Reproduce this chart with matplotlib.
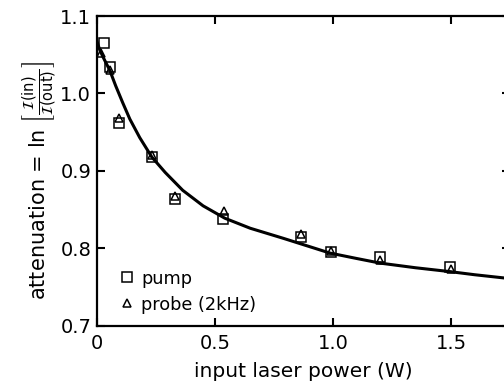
import matplotlib
matplotlib.use("Agg")
import matplotlib.pyplot as plt

# ---------------- data ----------------
pump_x = [0.03, 0.055, 0.093, 0.233, 0.33, 0.534, 0.864, 0.99, 1.2, 1.496]
pump_y = [1.065, 1.034, 0.962, 0.918, 0.864, 0.838, 0.815, 0.795, 0.789, 0.776]

probe_x = [0.02, 0.055, 0.093, 0.233, 0.33, 0.54, 0.865, 0.99, 1.2, 1.5]
probe_y = [1.052, 1.030, 0.968, 0.920, 0.868, 0.848, 0.818, 0.797, 0.785, 0.774]

# fitted curve
fit_x = [0.0, 0.013, 0.03, 0.055, 0.08, 0.11, 0.14, 0.182, 0.233, 0.29, 0.364,
         0.45, 0.542, 0.65, 0.79, 0.987, 1.1, 1.2, 1.35, 1.496, 1.6, 1.75]
fit_y = [1.068, 1.056, 1.045, 1.030, 1.010, 0.988, 0.967, 0.943, 0.918, 0.898,
         0.875, 0.855, 0.839, 0.826, 0.813, 0.794, 0.787, 0.781, 0.775, 0.770,
         0.766, 0.761]

xticks = [0, 0.5, 1.0, 1.5]
xticklabels = ["0", "0.5", "1.0", "1.5"]
yticks = [0.7, 0.8, 0.9, 1.0, 1.1]
yticklabels = ["0.7", "0.8", "0.9", "1.0", "1.1"]

# ---------------- figure ----------------
plt.rcParams["mathtext.fontset"] = "dejavusans"
fig = plt.figure(figsize=(5.04, 3.82), dpi=100)
ax = fig.add_axes([0.192, 0.147, 0.82, 0.811])

ax.plot(fit_x, fit_y, color="black", linewidth=2.2, zorder=2)
ax.plot(pump_x, pump_y, linestyle="none", marker="s", markersize=7,
        markerfacecolor="none", markeredgecolor="black", markeredgewidth=1.1,
        label="pump", zorder=3)
ax.plot(probe_x, probe_y, linestyle="none", marker="^", markersize=6,
        markerfacecolor="none", markeredgecolor="black", markeredgewidth=1.1,
        label="probe (2kHz)", zorder=3)

ax.set_xlim(0, 1.75)
ax.set_ylim(0.7, 1.1)
ax.set_xticks(xticks)
ax.set_xticklabels(xticklabels)
ax.set_yticks(yticks)
ax.set_yticklabels(yticklabels)

for s in ax.spines.values():
    s.set_linewidth(1.6)
ax.tick_params(direction="in", length=6, width=1.5, top=True, right=True,
               labelsize=14)
ax.tick_params(axis="x", pad=6)
ax.tick_params(axis="y", pad=4)

ax.set_xlabel("input laser power (W)", fontsize=14.5, labelpad=6)
ax.set_ylabel(r"attenuation = ln $\left[\frac{\mathcal{I}\mathrm{(in)}}{\mathcal{I}\mathrm{(out)}}\right]$",
              fontsize=15)
ax.yaxis.set_label_coords(-0.09, 0.47)

ax.legend(loc="lower left", bbox_to_anchor=(0.0, -0.035), frameon=False,
          fontsize=12.8, handlelength=0.8, handletextpad=0.4, labelspacing=0.45,
          borderaxespad=0.9)

fig.savefig("out.png", dpi=100)
